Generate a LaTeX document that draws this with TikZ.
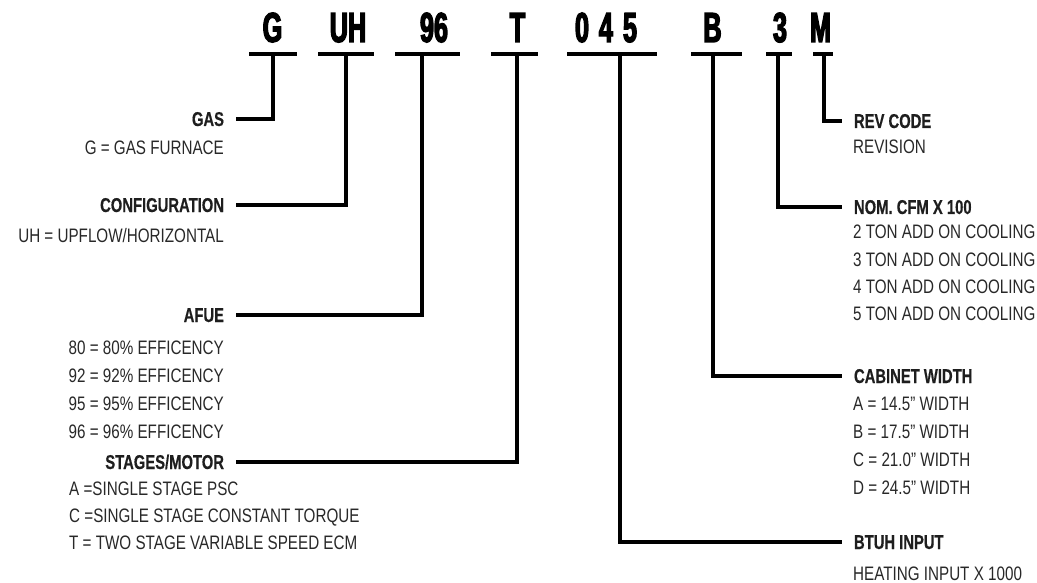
\documentclass[tikz,border=0pt]{standalone}
\usepackage{fontspec}
\setmainfont{Liberation Sans}[FakeStretch=0.78]
\newfontfamily\headfont{Liberation Sans Bold}[FakeStretch=0.74,FakeBold=0.4]
\newfontfamily\codefont{Liberation Sans Bold}[FakeStretch=0.6,FakeBold=3]
\definecolor{txtgray}{RGB}{40,40,40}
\definecolor{headgray}{RGB}{30,30,30}
\usetikzlibrary{positioning}
\tikzset{
  code/.style={font=\codefont\fontsize{42}{42}\selectfont, inner sep=0pt,
               text height=30pt, text depth=0pt},
  bar/.style={line width=4pt},
  lead/.style={line width=3.5pt, line join=miter},
  head/.style={font=\headfont\fontsize{20}{20}\selectfont, text=headgray,
               inner sep=0pt, outer xsep=12pt, text height=14pt, text depth=0pt},
  opt/.style={font=\fontsize{19.5}{19.5}\selectfont, text=txtgray,
              inner sep=0pt, text height=14pt, text depth=0pt},
}

\begin{document}
\begin{tikzpicture}[x=1pt, y=-1pt]
\useasboundingbox (0,0) rectangle (1037,583);

% Model number
\node[code] (cG)   at (272.5,27) {G};
\node[code] (cUH)  at (348,27)   {UH};
\node[code] (c96)  at (434,27)   {96};
\node[code] (cT)   at (517.5,27) {T};
\node[code] (c045) at (606,27)   {0\hspace{10pt}4\hspace{10pt}5};
\node[code] (cB)   at (712.5,27) {B};
\node[code] (c3)   at (780,27)   {3};
\node[code] (cM)   at (820.5,27) {M};

% Bars under the groups
\foreach \xa/\xb in {249/297, 318/374, 395/460, 491/538, 567/657, 691/742, 766/792, 813/833}
  \draw[bar] (\xa,54) -- (\xb,54);

% Stem tops
\coordinate (sG)   at (273,54);
\coordinate (sUH)  at (346,54);
\coordinate (s96)  at (422,54);
\coordinate (sT)   at (517,54);
\coordinate (s045) at (620,54);
\coordinate (sB)   at (713,54);
\coordinate (s3)   at (778,54);
\coordinate (sM)   at (824,54);

% Left labels
\node[head, anchor=east] (gas)    at (236,119) {GAS};
\node[head, anchor=east] (config) at (236,205) {CONFIGURATION};
\node[head, anchor=east] (afue)   at (236,315) {AFUE};
\node[head, anchor=east] (stages) at (236,462) {STAGES/MOTOR};

% Right labels
\node[head, anchor=west] (rev)     at (842,121) {REV CODE};
\node[head, anchor=west] (cfm)     at (842,207) {NOM. CFM X 100};
\node[head, anchor=west] (cabinet) at (842,376) {CABINET WIDTH};
\node[head, anchor=west] (btuh)    at (842,542) {BTUH INPUT};

% Leaders
\draw[lead] (sG)   |- (gas.east);
\draw[lead] (sUH)  |- (config.east);
\draw[lead] (s96)  |- (afue.east);
\draw[lead] (sT)   |- (stages.east);
\draw[lead] (sM)   |- (rev.west);
\draw[lead] (s3)   |- (cfm.west);
\draw[lead] (sB)   |- (cabinet.west);
\draw[lead] (s045) |- (btuh.west);

% Options
\node[opt, anchor=east] (gas1)    at (224,148) {G = GAS FURNACE};
\node[opt, anchor=east] (config1) at (224,236) {UH = UPFLOW/HORIZONTAL};
\foreach \t [count=\i] in {80 = 80\% EFFICENCY, 92 = 92\% EFFICENCY,
                           95 = 95\% EFFICENCY, 96 = 96\% EFFICENCY}
  \node[opt, anchor=east] (afue\i) at (224,{319+28*\i}) {\t};
\foreach \t [count=\i] in {A =SINGLE STAGE PSC, C =SINGLE STAGE CONSTANT TORQUE,
                           T = TWO STAGE VARIABLE SPEED ECM}
  \node[opt, anchor=west] (stages\i) at (69,{461+27*\i}) {\t};

\node[opt, anchor=west] (rev1) at (853,147) {REVISION};
\foreach \t [count=\i] in {2 TON ADD ON COOLING, 3 TON ADD ON COOLING,
                           4 TON ADD ON COOLING, 5 TON ADD ON COOLING}
  \node[opt, anchor=west] (cfm\i) at (853,{205+27*\i}) {\t};
\foreach \t [count=\i] in {A = 14.5” WIDTH, B = 17.5” WIDTH,
                           C = 21.0” WIDTH, D = 24.5” WIDTH}
  \node[opt, anchor=west] (cabinet\i) at (853,{375+28*\i}) {\t};
\node[opt, anchor=west] (btuh1) at (853,573) {HEATING INPUT X 1000};

\end{tikzpicture}
\end{document}
